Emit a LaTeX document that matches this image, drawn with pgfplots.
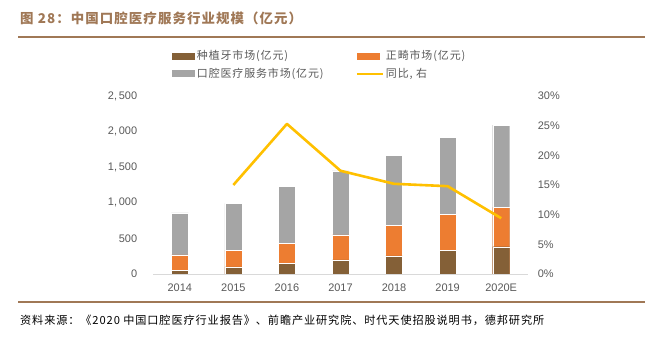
\documentclass[border=0pt]{standalone}
\usepackage{fontspec}
\setmainfont{Liberation Sans}
\newfontfamily\cjk{Noto Sans CJK SC}
\newfontfamily\cjkls[LetterSpace=8]{Noto Sans CJK SC}
\usepackage{pgfplots}
\usepackage{pgfplotstable}
\pgfplotsset{compat=1.18}
\definecolor{cBrown}{RGB}{132,96,55}
\definecolor{cOrange}{RGB}{237,125,49}
\definecolor{cGray}{RGB}{165,165,165}
\definecolor{cYellow}{RGB}{255,192,0}
\definecolor{cTitle}{RGB}{160,120,86}
\definecolor{cTick}{RGB}{89,89,89}
\definecolor{cAxis}{RGB}{217,217,217}
\pgfplotsset{
  legbar/.style={legend image code/.code={\fill[##1] (0bp,-3.5bp) rectangle (23bp,3.5bp);}},
  legline/.style={legend image code/.code={\draw[##1] (0bp,0bp) -- (26bp,0bp);}},
}

\pgfplotstableread{
x total ortho implant
0 860 267 52
1 993 337 100
2 1235 435 146
3 1450 548 197
4 1671 688 253
5 1919 842 337
6 2092 936 383
}\bars
\pgfplotstableread{
x g
1 15.0
2 25.3
3 17.4
4 15.2
5 14.8
6 9.4
}\growth

\begin{document}
\begin{tikzpicture}
\path[use as bounding box] (0,0) rectangle (663bp,344bp);
% title and rules
\node[anchor=west, text=cTitle, font=\cjkls\bfseries\fontsize{13.5}{15}\selectfont, inner sep=0pt] at (20bp,326bp) {图 28：中国口腔医疗服务行业规模（亿元）};
\draw[cTitle, line width=1.5bp] (18bp,307bp) -- (645bp,307bp);
\draw[cTitle, line width=1.2bp] (18bp,42bp) -- (645bp,42bp);
\node[anchor=west, text=black, font=\cjkls\fontsize{11.2}{13}\selectfont, inner sep=0pt] at (20bp,24bp) {资料来源：《2020 中国口腔医疗行业报告》、前瞻产业研究院、时代天使招股说明书，德邦研究所};

\begin{axis}[
  at={(153bp,70bp)}, anchor=south west,
  scale only axis, width=375bp, height=178bp,
  xmin=-0.5, xmax=6.5, ymin=0, ymax=2500,
  axis x line*=bottom, axis y line*=left,
  x axis line style={draw=cAxis, line width=0.8bp},
  y axis line style={draw=none},
  tick style={draw=none},
  /pgf/number format/assume math mode=true,
  xtick={0,...,6}, xticklabels={2014,2015,2016,2017,2018,2019,2020E},
  ytick={0,500,1000,1500,2000,2500},
  yticklabels={0,500,{1,\,000},{1,\,500},{2,\,000},{2,\,500}},
  ticklabel style={font=\fontsize{11}{13}\selectfont, text=cTick},
  xticklabel style={yshift=-6bp},
  yticklabel style={xshift=-12.3bp},
  legend columns=2,
  legend cell align=left,
  legend style={at={(0.05,1.267)}, anchor=north west, draw=none, fill=none,
    inner sep=0pt,
    font=\cjkls\fontsize{11}{13}\selectfont, text=cTick,
    nodes={inner sep=2bp},
    row sep=3bp,
    /tikz/every even column/.append style={column sep=30bp}},
]
\addlegendimage{legbar, fill=cBrown, draw=none}
\addlegendentry{种植牙市场(亿元)}
\addlegendimage{legbar, fill=cOrange, draw=none}
\addlegendentry{正畸市场(亿元)}
\addlegendimage{legbar, fill=cGray, draw=none}
\addlegendentry{口腔医疗服务市场(亿元)}
\addlegendimage{legline, draw=cYellow, line width=2.4bp}
\addlegendentry{同比, 右}

\addplot[ybar, bar width=17bp, bar shift=0pt, fill=cGray, draw=white, line width=0.4bp, forget plot] table[x=x, y=total]{\bars};
\addplot[ybar, bar width=17bp, bar shift=0pt, fill=cOrange, draw=white, line width=0.4bp, forget plot] table[x=x, y=ortho]{\bars};
\addplot[ybar, bar width=17bp, bar shift=0pt, fill=cBrown, draw=white, line width=0.4bp, forget plot] table[x=x, y=implant]{\bars};
\end{axis}

\begin{axis}[
  at={(153bp,70bp)}, anchor=south west,
  scale only axis, width=375bp, height=178bp,
  xmin=-0.5, xmax=6.5, ymin=0, ymax=30,
  hide x axis,
  axis y line*=right,
  y axis line style={draw=none},
  tick style={draw=none},
  /pgf/number format/assume math mode=true,
  ytick={0,5,10,15,20,25,30},
  yticklabels={0\%,5\%,10\%,15\%,20\%,25\%,30\%},
  yticklabel style={font=\fontsize{11}{13}\selectfont, text=cTick, anchor=west, xshift=6.3bp},
]
\addplot[cYellow, line width=2.6bp, line join=round, no markers] table[x=x, y=g]{\growth};
\end{axis}
\end{tikzpicture}
\end{document}
